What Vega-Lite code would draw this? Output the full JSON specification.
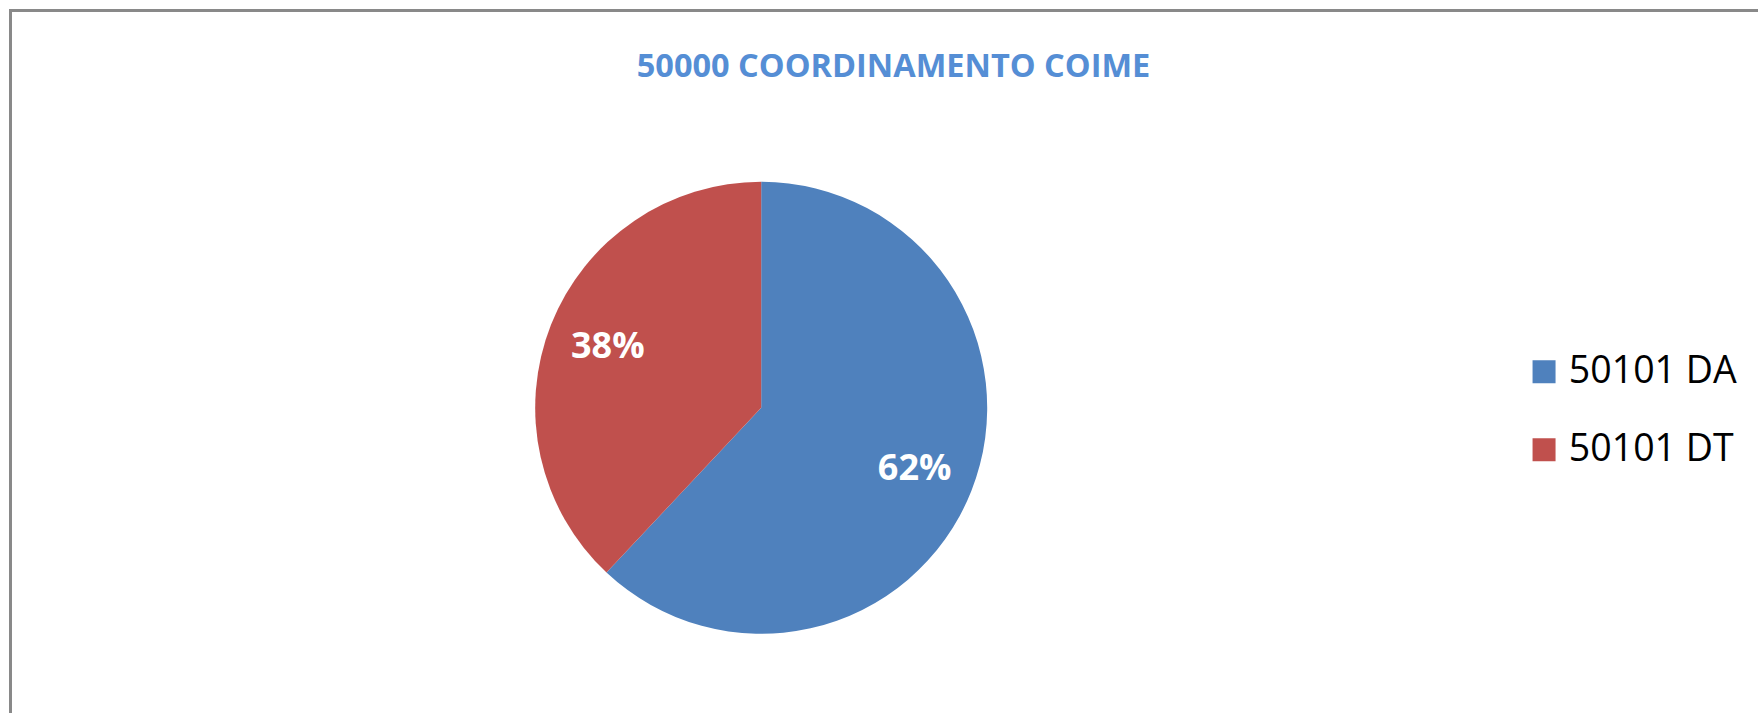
{
  "$schema": "https://vega.github.io/schema/vega-lite/v6.json",
  "width": 1757.5,
  "height": 712.5,
  "autosize": {"type": "none"},
  "padding": {"left": 10.5, "top": 10.5, "right": -10, "bottom": -10},
  "background": "white",
  "view": {"stroke": "#898989", "strokeWidth": 3, "fill": "white"},
  "config": {
    "view": {"stroke": "#898989", "strokeWidth": 3},
    "font": "Open Sans"
  },
  "title": {
    "text": "50000 COORDINAMENTO COIME",
    "font": "Open Sans",
    "fontSize": 32.5,
    "fontWeight": "bold",
    "color": "#558ED5",
    "anchor": "middle",
    "frame": "group",
    "baseline": "alphabetic",
    "offset": 0,
    "dx": 4.25,
    "dy": 99
  },
  "data": {
    "values": [
      {"serie": "50101 DA", "percent": 62, "label": "62%"},
      {"serie": "50101 DT", "percent": 38, "label": "38%"}
    ]
  },
  "encoding": {
    "theta": {"field": "percent", "type": "quantitative", "stack": true},
    "order": {"field": "serie", "type": "nominal"}
  },
  "layer": [
    {
      "mark": {"type": "arc", "x": 750.7, "y": 397.3, "outerRadius": 226},
      "encoding": {
        "color": {
          "field": "serie",
          "type": "nominal",
          "scale": {"domain": ["50101 DA", "50101 DT"], "range": ["#4F81BD", "#C0504D"]},
          "legend": {
            "title": null,
            "orient": "none",
            "legendX": 1514.8,
            "legendY": 342.5,
            "padding": 0,
            "symbolType": "square",
            "symbolSize": 529,
            "symbolStrokeWidth": 0,
            "symbolOpacity": 1,
            "labelFont": "Open Sans",
            "labelFontSize": 37.5,
            "labelColor": "#000000",
            "labelOffset": 6,
            "rowPadding": 39,
            "labelLimit": 400
          }
        }
      }
    },
    {
      "mark": {
        "type": "text",
        "x": 750.7,
        "y": 397.3,
        "radius": 165,
        "font": "Open Sans",
        "fontSize": 36,
        "fontWeight": "bold",
        "color": "white",
        "align": "center",
        "baseline": "middle"
      },
      "encoding": {"text": {"field": "label", "type": "nominal"}}
    }
  ]
}
